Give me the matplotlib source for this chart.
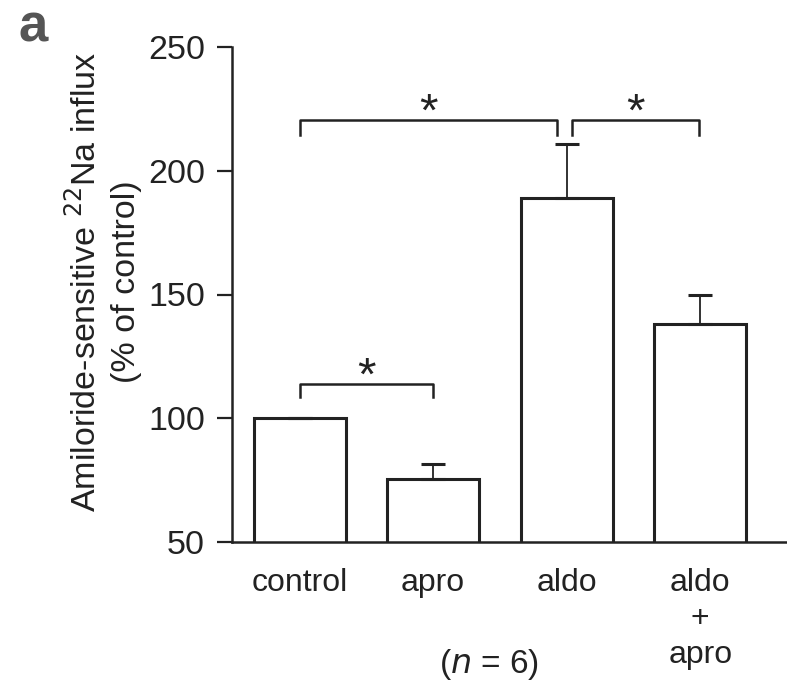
import matplotlib.pyplot as plt
import numpy as np

plt.rcParams['font.family'] = ['Liberation Sans', 'DejaVu Sans']

# data
groups = ['control', 'apro', 'aldo', 'aldo\n+\napro']
values = [100, 75.5, 189, 138]
errors = [0, 6, 22, 12]
y_ticks = [50, 100, 150, 200, 250]

# significance brackets: (x_start, x_end, y, leg length)
brackets = [(0, 1, 114, 5.5), (0, 1.93, 220.5, 6), (2.04, 2.99, 220.5, 6)]

fig = plt.figure(figsize=(7.87, 6.9), dpi=100)
ax = fig.add_axes([232 / 787, 1 - 542 / 690, 1 - 232 / 787, (542 - 47) / 690])

x = np.arange(len(groups))
ax.bar(x, values, width=0.69, bottom=0, color='white', edgecolor='#222222',
       linewidth=2.2, zorder=2)
ax.errorbar(x, values, yerr=[np.zeros(len(errors)), errors], fmt='none',
            ecolor='#222222', elinewidth=1.3, capsize=8.5, capthick=2.2, zorder=3)

for x0, x1, y, leg in brackets:
    ax.plot([x0, x0, x1, x1], [y - leg, y, y, y - leg], color='#222222', lw=1.8,
            clip_on=False)
    ax.text((x0 + x1) / 2, y - 2.5, '*', ha='center', va='baseline', fontsize=34,
            color='#222222')

ax.set_xlim(-0.506, 3.65)
ax.set_ylim(50, 250)
ax.set_yticks(y_ticks)
ax.set_xticks(x)
ax.set_xticklabels(groups, fontsize=23, color='#222222', linespacing=1.25,
                   va='top')
ax.tick_params(axis='x', length=0, pad=19)
ax.tick_params(axis='y', direction='out', length=11, width=1.6, labelsize=24.5,
               pad=8.5, colors='#222222')

for s in ['top', 'right']:
    ax.spines[s].set_visible(False)
for s in ['left', 'bottom']:
    ax.spines[s].set_linewidth(1.8)
    ax.spines[s].set_color('#222222')

ax.set_ylabel('Amiloride-sensitive $^{22}$Na influx\n(% of control)',
              fontsize=24.5, color='#222222', labelpad=10, linespacing=1.35)
ax.yaxis.set_label_coords(-0.163, 0.526)

fig.text(489 / 787, 1 - 664 / 690, '($n$ = 6)', ha='center', va='center',
         fontsize=24, color='#222222')
fig.text(18 / 787, 1 - 28 / 690, 'a', ha='left', va='center', fontsize=38,
         fontweight='bold', color='#555555')

fig.savefig('out.png', dpi=100)
